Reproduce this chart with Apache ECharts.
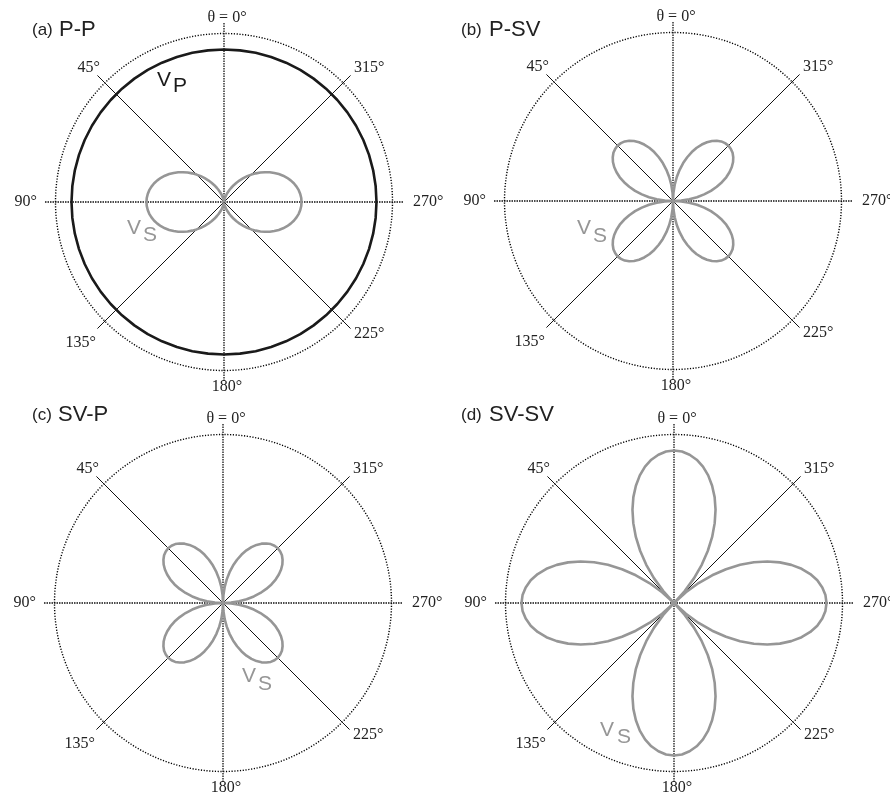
<!DOCTYPE html>
<html><head><meta charset="utf-8">
<script src="https://cdn.jsdelivr.net/npm/echarts@6/dist/echarts.min.js"></script>
<style>html,body{margin:0;padding:0;background:#fff}#c{width:890px;height:796px}</style>
</head><body><div id="c"></div><script>
// angle samples (degrees, 0 = top, increasing counter-clockwise)
const thetaDeg = [0,3,6,9,12,15,18,21,24,27,30,33,36,39,42,45,48,51,54,57,60,63,66,69,72,75,78,81,84,87,
  90,93,96,99,102,105,108,111,114,117,120,123,126,129,132,135,138,141,144,147,150,153,156,159,162,165,168,171,174,177,
  180,183,186,189,192,195,198,201,204,207,210,213,216,219,222,225,228,231,234,237,240,243,246,249,252,255,258,261,264,267,
  270,273,276,279,282,285,288,291,294,297,300,303,306,309,312,315,318,321,324,327,330,333,336,339,342,345,348,351,354,357,360];
const thetaVp = [0,6,12,18,24,30,36,42,48,54,60,66,72,78,84,90,96,102,108,114,120,126,132,138,144,150,156,162,168,174,
  180,186,192,198,204,210,216,222,228,234,240,246,252,258,264,270,276,282,288,294,300,306,312,318,324,330,336,342,348,354,360];
// radii, relative to the dotted outer circle (= 1)
const vpA = [0.905,0.905,0.905,0.905,0.905,0.905,0.905,0.905,0.905,0.905,
             0.905,0.905,0.905,0.905,0.905,0.905,0.905,0.905,0.905,0.905,
             0.905,0.905,0.905,0.905,0.905,0.905,0.905,0.905,0.905,0.905,
             0.905,0.905,0.905,0.905,0.905,0.905,0.905,0.905,0.905,0.905,
             0.905,0.905,0.905,0.905,0.905,0.905,0.905,0.905,0.905,0.905,
             0.905,0.905,0.905,0.905,0.905,0.905,0.905,0.905,0.905,0.905,0.905];
const vsA = [0.000,0.001,0.005,0.011,0.020,0.031,0.044,0.059,0.076,0.095,0.115,0.136,0.159,0.182,0.206,0.230,0.254,0.278,0.301,0.324,0.345,0.365,0.384,0.401,0.416,0.429,0.440,0.449,0.455,0.459,
             0.460,0.459,0.455,0.449,0.440,0.429,0.416,0.401,0.384,0.365,0.345,0.324,0.301,0.278,0.254,0.230,0.206,0.182,0.159,0.136,0.115,0.095,0.076,0.059,0.044,0.031,0.020,0.011,0.005,0.001,
             0.000,0.001,0.005,0.011,0.020,0.031,0.044,0.059,0.076,0.095,0.115,0.136,0.159,0.182,0.206,0.230,0.254,0.278,0.301,0.324,0.345,0.365,0.384,0.401,0.416,0.429,0.440,0.449,0.455,0.459,
             0.460,0.459,0.455,0.449,0.440,0.429,0.416,0.401,0.384,0.365,0.345,0.324,0.301,0.278,0.254,0.230,0.206,0.182,0.159,0.136,0.115,0.095,0.076,0.059,0.044,0.031,0.020,0.011,0.005,0.001,
             0.000];
const vsB = [0.000,0.049,0.097,0.144,0.189,0.233,0.273,0.311,0.346,0.376,0.403,0.425,0.442,0.455,0.462,0.465,0.462,0.455,0.442,0.425,0.403,0.376,0.346,0.311,0.273,0.233,0.189,0.144,0.097,0.049,
             0.000,0.049,0.097,0.144,0.189,0.233,0.273,0.311,0.346,0.376,0.403,0.425,0.442,0.455,0.462,0.465,0.462,0.455,0.442,0.425,0.403,0.376,0.346,0.311,0.273,0.233,0.189,0.144,0.097,0.049,
             0.000,0.049,0.097,0.144,0.189,0.233,0.273,0.311,0.346,0.376,0.403,0.425,0.442,0.455,0.462,0.465,0.462,0.455,0.442,0.425,0.403,0.376,0.346,0.311,0.273,0.233,0.189,0.144,0.097,0.049,
             0.000,0.049,0.097,0.144,0.189,0.233,0.273,0.311,0.346,0.376,0.403,0.425,0.442,0.455,0.462,0.465,0.462,0.455,0.442,0.425,0.403,0.376,0.346,0.311,0.273,0.233,0.189,0.144,0.097,0.049,
             0.000];
const vsC = [0.000,0.048,0.096,0.142,0.187,0.230,0.270,0.308,0.342,0.372,0.398,0.420,0.437,0.450,0.457,0.460,0.457,0.450,0.437,0.420,0.398,0.372,0.342,0.308,0.270,0.230,0.187,0.142,0.096,0.048,
             0.000,0.048,0.096,0.142,0.187,0.230,0.270,0.308,0.342,0.372,0.398,0.420,0.437,0.450,0.457,0.460,0.457,0.450,0.437,0.420,0.398,0.372,0.342,0.308,0.270,0.230,0.187,0.142,0.096,0.048,
             0.000,0.048,0.096,0.142,0.187,0.230,0.270,0.308,0.342,0.372,0.398,0.420,0.437,0.450,0.457,0.460,0.457,0.450,0.437,0.420,0.398,0.372,0.342,0.308,0.270,0.230,0.187,0.142,0.096,0.048,
             0.000,0.048,0.096,0.142,0.187,0.230,0.270,0.308,0.342,0.372,0.398,0.420,0.437,0.450,0.457,0.460,0.457,0.450,0.437,0.420,0.398,0.372,0.342,0.308,0.270,0.230,0.187,0.142,0.096,0.048,
             0.000];
const vsD = [0.905,0.900,0.885,0.861,0.827,0.784,0.732,0.673,0.606,0.532,0.453,0.368,0.280,0.188,0.095,0.000,0.095,0.188,0.280,0.368,0.453,0.532,0.606,0.673,0.732,0.784,0.827,0.861,0.885,0.900,
             0.905,0.900,0.885,0.861,0.827,0.784,0.732,0.673,0.606,0.532,0.453,0.368,0.280,0.188,0.095,0.000,0.095,0.188,0.280,0.368,0.453,0.532,0.606,0.673,0.732,0.784,0.827,0.861,0.885,0.900,
             0.905,0.900,0.885,0.861,0.827,0.784,0.732,0.673,0.606,0.532,0.453,0.368,0.280,0.188,0.095,0.000,0.095,0.188,0.280,0.368,0.453,0.532,0.606,0.673,0.732,0.784,0.827,0.861,0.885,0.900,
             0.905,0.900,0.885,0.861,0.827,0.784,0.732,0.673,0.606,0.532,0.453,0.368,0.280,0.188,0.095,0.000,0.095,0.188,0.280,0.368,0.453,0.532,0.606,0.673,0.732,0.784,0.827,0.861,0.885,0.900,
             0.905];
const angleTickLabels = ['θ = 0°','45°','90°','135°','180°','225°','270°','315°'];
const panelLetters = ['(a)','(b)','(c)','(d)'];
const panelNames = ['P-P','P-SV','SV-P','SV-SV'];

const GRAY = '#969696', BLACK = '#1a1a1a';
const R = 168.5, RS = 179;
const panels = [
  {cx:224, cy:202, tx:[32,59], ty:30, curves:[[vpA,thetaVp,BLACK],[vsA,thetaDeg,GRAY]],
   labels:[['V',157,80,BLACK],['P',173,86,BLACK],['V',127,228,GRAY],['S',143,235,GRAY]]},
  {cx:673, cy:201, tx:[461,489], ty:30, curves:[[vsB,thetaDeg,GRAY]],
   labels:[['V',577,228,GRAY],['S',593,236,GRAY]]},
  {cx:223, cy:603, tx:[32,58], ty:415, curves:[[vsC,thetaDeg,GRAY]],
   labels:[['V',242,676,GRAY],['S',258,684,GRAY]]},
  {cx:674, cy:603, tx:[461,489], ty:415, curves:[[vsD,thetaDeg,GRAY]],
   labels:[['V',600,730,GRAY],['S',617,737,GRAY]]}
];

const polar = [], radiusAxis = [], angleAxis = [], series = [], graphic = [];
const serif = 'Liberation Serif';
const sans = 'Liberation Sans';
panels.forEach((p, i) => {
  const b = polar.length;
  // base polar: dotted outer circle + curves
  polar.push({center:[p.cx, p.cy], radius:R});
  radiusAxis.push({polarIndex:b, type:'value', min:0, max:1, interval:1,
    axisLine:{show:false}, axisTick:{show:false}, axisLabel:{show:false},
    splitLine:{show:true, lineStyle:{color:'#000', width:1.4, type:[1.2,1.6]}}});
  angleAxis.push({polarIndex:b, type:'value', min:0, max:360, startAngle:90, clockwise:false,
    axisLine:{show:false}, axisTick:{show:false}, axisLabel:{show:false}, splitLine:{show:false}});
  // cardinal spokes (dotted)
  polar.push({center:[p.cx, p.cy], radius:RS});
  radiusAxis.push({polarIndex:b+1, type:'value', min:0, max:1, show:false});
  angleAxis.push({polarIndex:b+1, type:'value', min:0, max:360, interval:90, startAngle:90, clockwise:false,
    axisLine:{show:false}, axisTick:{show:false},
    splitLine:{show:true, lineStyle:{color:'#111', width:1.3, type:[1.5,1]}},
    axisLabel:{show:true, margin:-4, fontFamily:serif, fontSize:16, color:'#222',
      formatter: v => v >= 360 ? '' : '{c' + (v/45) + '|' + angleTickLabels[v/45] + '}',
      rich:{c0:{padding:[0,0,1,6]}, c2:{padding:[0,12,0,0]}, c4:{padding:[2,0,0,6]}, c6:{padding:[0,0,0,14]}}}});
  // diagonal spokes (solid)
  polar.push({center:[p.cx, p.cy], radius:RS});
  radiusAxis.push({polarIndex:b+2, type:'value', min:0, max:1, show:false});
  angleAxis.push({polarIndex:b+2, type:'value', min:0, max:360, interval:90, startAngle:135, clockwise:false,
    axisLine:{show:false}, axisTick:{show:false},
    splitLine:{show:true, lineStyle:{color:'#111', width:1}},
    axisLabel:{show:true, margin:-5, fontFamily:serif, fontSize:16, color:'#222',
      formatter: v => { if (v >= 360) return ''; const k = v/90*2 + 1; return '{d' + k + '|' + angleTickLabels[k] + '}'; },
      rich:{d1:{padding:[0,1,3,0]}, d3:{padding:[10,5,0,0]}, d5:{padding:[1,0,0,7]}, d7:{padding:[0,0,3,7]}}}});
  p.curves.forEach(c => {
    series.push({type:'line', coordinateSystem:'polar', polarIndex:b, smooth:false,
      symbol:'none', silent:true, clip:false,
      lineStyle:{color:c[2], width:2.6, join:'round'},
      data: c[1].map((t, k) => [c[0][k], t])});
  });
  graphic.push({type:'text', x:p.tx[0], y:p.ty, style:{text:panelLetters[i], font:'17px "' + sans + '"', fill:'#222', align:'left', verticalAlign:'middle'}});
  graphic.push({type:'text', x:p.tx[1], y:p.ty, style:{text:panelNames[i], font:'22px "' + sans + '"', fill:'#222', align:'left', verticalAlign:'middle'}});
  p.labels.forEach(l => {
    graphic.push({type:'text', x:l[1], y:l[2], style:{text:l[0], font:'21px "' + sans + '"', fill:l[3], align:'left', verticalAlign:'middle'}});
  });
});

const chart = echarts.init(document.getElementById('c'), null, {renderer:'canvas'});
chart.setOption({animation:false, backgroundColor:'#fff', polar, radiusAxis, angleAxis, series, graphic});
</script></body></html>
